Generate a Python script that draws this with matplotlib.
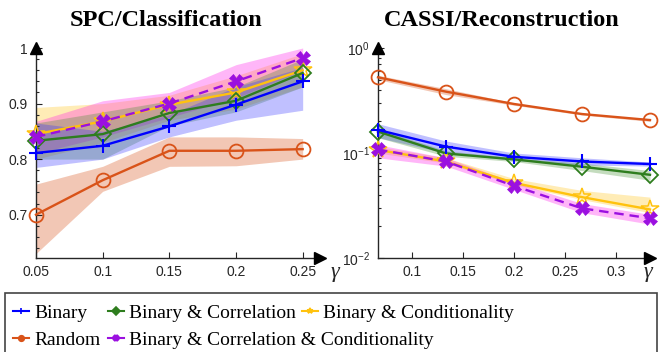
import matplotlib
matplotlib.use("Agg")
import matplotlib.pyplot as plt
from matplotlib.lines import Line2D
from matplotlib.patches import Rectangle
from matplotlib.font_manager import FontProperties
from matplotlib.ticker import MultipleLocator, FixedLocator, LogLocator, NullFormatter

# ---------------- data ----------------
gamma_spc = [0.05, 0.10, 0.15, 0.20, 0.25]
spc_binary = [0.811, 0.824, 0.859, 0.898, 0.940]
spc_binary_lo = [0.785, 0.800, 0.840, 0.870, 0.888]
spc_binary_hi = [0.865, 0.850, 0.880, 0.930, 0.965]
spc_random = [0.700, 0.762, 0.815, 0.815, 0.818]
spc_random_lo = [0.630, 0.742, 0.787, 0.788, 0.800]
spc_random_hi = [0.755, 0.787, 0.840, 0.840, 0.837]
spc_corr = [0.833, 0.845, 0.883, 0.905, 0.955]
spc_corr_lo = [0.800, 0.800, 0.860, 0.885, 0.930]
spc_corr_hi = [0.865, 0.885, 0.905, 0.930, 0.980]
spc_cond = [0.845, 0.868, 0.898, 0.920, 0.960]
spc_cond_lo = [0.800, 0.830, 0.870, 0.890, 0.930]
spc_cond_hi = [0.893, 0.900, 0.915, 0.950, 0.990]
spc_corr_cond = [0.840, 0.868, 0.900, 0.940, 0.982]
spc_corr_cond_lo = [0.810, 0.840, 0.875, 0.910, 0.960]
spc_corr_cond_hi = [0.868, 0.905, 0.920, 0.970, 1.000]

gamma_cassi = [0.0667, 0.1333, 0.2000, 0.2667, 0.3333]
cassi_binary = [0.166, 0.115, 0.092, 0.083, 0.0785]
cassi_binary_lo = [0.140, 0.100, 0.085, 0.077, 0.075]
cassi_binary_hi = [0.190, 0.130, 0.100, 0.090, 0.082]
cassi_random = [0.526, 0.384, 0.293, 0.235, 0.206]
cassi_random_lo = [0.500, 0.360, 0.285, 0.230, 0.200]
cassi_random_hi = [0.550, 0.410, 0.300, 0.240, 0.210]
cassi_corr = [0.160, 0.099, 0.087, 0.074, 0.062]
cassi_corr_lo = [0.140, 0.093, 0.083, 0.068, 0.055]
cassi_corr_hi = [0.170, 0.105, 0.090, 0.080, 0.068]
cassi_cond = [0.107, 0.083, 0.052, 0.038, 0.029]
cassi_cond_lo = [0.100, 0.080, 0.050, 0.036, 0.027]
cassi_cond_hi = [0.115, 0.090, 0.057, 0.044, 0.038]
cassi_corr_cond = [0.108, 0.083, 0.0486, 0.0297, 0.0239]
cassi_corr_cond_lo = [0.090, 0.075, 0.045, 0.027, 0.021]
cassi_corr_cond_hi = [0.120, 0.090, 0.053, 0.033, 0.026]

labels = ["Binary", "Random", "Binary & Correlation",
          "Binary & Correlation & Conditionality", "Binary & Conditionality"]
spc_x_ticks = [0.05, 0.1, 0.15, 0.2, 0.25]
spc_x_ticklabels = ["0.05", "0.1", "0.15", "0.2", "0.25"]
spc_y_ticks = [0.7, 0.8, 0.9, 1.0]
spc_y_ticklabels = ["0.7", "0.8", "0.9", "1"]
cassi_x_ticks = [0.1, 0.15, 0.2, 0.25, 0.3]
cassi_x_ticklabels = ["0.1", "0.15", "0.2", "0.25", "0.3"]

# ---------------- styles ----------------
C_BLUE = "#0000FF"
C_ORANGE = "#D95319"
C_GREEN = "#2E7D1E"
C_YELLOW = "#FFC20E"
C_PURPLE = "#9B10E0"
F_BLUE = "#3030FF"
F_ORANGE = "#D95319"
F_GREEN = "#3C8C2A"
F_YELLOW = "#FFC20E"
F_PINK = "#FF10E8"

styles = {
    "binary": dict(color=C_BLUE, marker="+", ms=10, mew=1.5, mfc=C_BLUE, ls="-"),
    "random": dict(color=C_ORANGE, marker="o", ms=10, mew=1.3, mfc="none", ls="-"),
    "corr": dict(color=C_GREEN, marker="D", ms=8, mew=1.3, mfc="none", ls="-"),
    "corr_cond": dict(color=C_PURPLE, marker="X", ms=10, mew=0.5, mfc=C_PURPLE, ls="--"),
    "cond": dict(color=C_YELLOW, marker="*", ms=13, mew=1.1, mfc="none", ls="-"),
}

SANS = "Liberation Sans"
SERIF = "Liberation Serif"

W, H = 661, 352
fig = plt.figure(figsize=(W / 100, H / 100), dpi=100)


def fig_box(x0, x1, ytop, ybot):
    return [x0 / W, 1 - ybot / H, (x1 - x0) / W, (ybot - ytop) / H]


ax1 = fig.add_axes(fig_box(36, 320, 48, 258))
ax2 = fig.add_axes(fig_box(378, 650, 48, 258))


def draw_series(ax, x, y, lo, hi, fill_color, alpha, st, z):
    ax.fill_between(x, lo, hi, color=fill_color, alpha=alpha, lw=0, zorder=1)
    ax.plot(x, y, color=st["color"], lw=1.7, ls=st["ls"], marker=st["marker"],
            ms=st["ms"], mew=st["mew"], mfc=st["mfc"], mec=st["color"],
            clip_on=False, zorder=z, dashes=(4, 2.5) if st["ls"] == "--" else (None, None))


# left panel
draw_series(ax1, gamma_spc, spc_random, spc_random_lo, spc_random_hi, F_ORANGE, 0.32, styles["random"], 3)
draw_series(ax1, gamma_spc, spc_cond, spc_cond_lo, spc_cond_hi, F_YELLOW, 0.3, styles["cond"], 4)
draw_series(ax1, gamma_spc, spc_corr_cond, spc_corr_cond_lo, spc_corr_cond_hi, F_PINK, 0.3, styles["corr_cond"], 6)
draw_series(ax1, gamma_spc, spc_corr, spc_corr_lo, spc_corr_hi, F_GREEN, 0.3, styles["corr"], 4)
draw_series(ax1, gamma_spc, spc_binary, spc_binary_lo, spc_binary_hi, F_BLUE, 0.3, styles["binary"], 5)

# right panel
draw_series(ax2, gamma_cassi, cassi_random, cassi_random_lo, cassi_random_hi, F_ORANGE, 0.32, styles["random"], 3)
draw_series(ax2, gamma_cassi, cassi_binary, cassi_binary_lo, cassi_binary_hi, F_BLUE, 0.3, styles["binary"], 5)
draw_series(ax2, gamma_cassi, cassi_corr, cassi_corr_lo, cassi_corr_hi, F_GREEN, 0.3, styles["corr"], 4)
draw_series(ax2, gamma_cassi, cassi_cond, cassi_cond_lo, cassi_cond_hi, F_YELLOW, 0.3, styles["cond"], 4)
draw_series(ax2, gamma_cassi, cassi_corr_cond, cassi_corr_cond_lo, cassi_corr_cond_hi, F_PINK, 0.3, styles["corr_cond"], 6)

ax1.set_xlim(0.05, 0.263)
ax1.set_ylim(0.622, 1.0)
ax1.set_xticks(spc_x_ticks)
ax1.set_xticklabels(spc_x_ticklabels)
ax1.set_yticks(spc_y_ticks)
ax1.set_yticklabels(spc_y_ticklabels)
ax1.yaxis.set_minor_locator(MultipleLocator(0.02))

ax2.set_yscale("log")
ax2.set_xlim(0.0667, 0.3333)
ax2.set_ylim(0.01, 1.0)
ax2.set_xticks(cassi_x_ticks)
ax2.set_xticklabels(cassi_x_ticklabels)
ax2.yaxis.set_major_locator(FixedLocator([0.01, 0.1, 1.0]))
ax2.yaxis.set_minor_locator(LogLocator(base=10, subs=range(2, 10)))
ax2.yaxis.set_minor_formatter(NullFormatter())

for ax in (ax1, ax2):
    ax.set_facecolor("none")
    for s in ("top", "right"):
        ax.spines[s].set_visible(False)
    for s in ("left", "bottom"):
        ax.spines[s].set_color("#262626")
        ax.spines[s].set_linewidth(1.0)
    ax.tick_params(which="both", direction="in", color="#262626", width=0.8,
                   labelsize=10, labelcolor="#262626")
    ax.tick_params(which="major", length=4)
    ax.tick_params(which="minor", length=2.5)
    ax.tick_params(axis="x", which="minor", bottom=False)
    ax.tick_params(axis="x", pad=5)
    ax.tick_params(axis="y", pad=6)
    for lab in ax.get_xticklabels() + ax.get_yticklabels():
        lab.set_family(SANS)
    # arrow heads at the axis ends
    ax.plot(1, 0, ">", color="black", ms=9, transform=ax.transAxes, clip_on=False, zorder=10)
    ax.plot(0, 1, "^", color="black", ms=9, transform=ax.transAxes, clip_on=False, zorder=10)

ax1.annotate("γ", xy=(1, 0), xycoords="axes fraction", xytext=(15, -15),
             textcoords="offset pixels", ha="center", va="center",
             fontsize=16, family=SERIF, style="italic", color="#262626")
ax2.annotate("γ", xy=(1, 0), xycoords="axes fraction", xytext=(-2, -15),
             textcoords="offset pixels", ha="center", va="center",
             fontsize=16, family=SERIF, style="italic", color="#262626")

fig.text(166 / W, 1 - 21 / H, "SPC/Classification", ha="center", va="center",
         fontsize=17.5, family=SERIF, weight="bold")
fig.text(502 / W, 1 - 21 / H, "CASSI/Reconstruction", ha="center", va="center",
         fontsize=17.5, family=SERIF, weight="bold")

# legend: one frame around five single-entry legends
fig.patches.append(Rectangle((5 / W, -0.05), 652 / W, 0.05 + 1 - 293 / H,
                             transform=fig.transFigure, fill=False,
                             edgecolor="#444444", lw=1.2, zorder=0))

legend_font = FontProperties(family=SERIF, size=14)
order = ["binary", "random", "corr", "corr_cond", "cond"]
slots = [(13, 313), (13, 340), (108, 313), (108, 340), (302, 313)]
for key, lab, (px, py) in zip(order, labels, slots):
    st = styles[key]
    h = Line2D([0], [0], color=st["color"], lw=1.5, ls="-", marker=st["marker"],
               ms=4, mew=1.2, mfc=st["color"], mec=st["color"])
    fig.legend([h], [lab], loc="center left", bbox_to_anchor=(px / W, 1 - py / H),
               frameon=False, borderpad=0, borderaxespad=0, handlelength=0.8,
               handletextpad=0.3, prop=legend_font)

fig.savefig("out.png", dpi=100)
